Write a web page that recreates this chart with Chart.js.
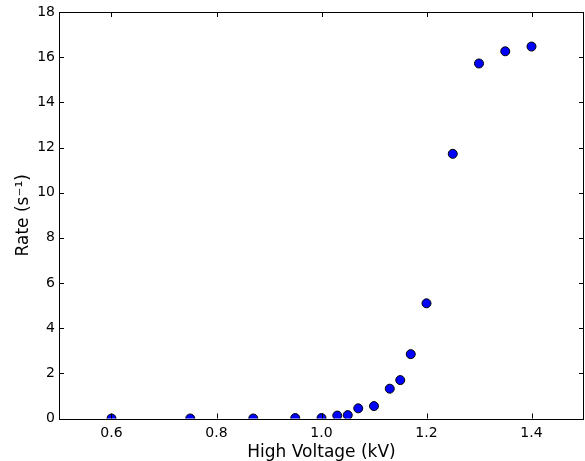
<!DOCTYPE html>
<html lang="en">
<head>
    <meta charset="UTF-8">
    <title>Rate vs High Voltage</title>
    <script src="https://cdn.jsdelivr.net/npm/chart.js"></script>
    <style>
        html, body { margin: 0; padding: 0; background: #fff; }
        #wrap { width: 585px; height: 461px; }
    </style>
</head>
<body>
    <div id="wrap"><canvas id="rateChart" width="585" height="461"></canvas></div>

    <script>
        // values
        const voltages = [0.60, 0.75, 0.87, 0.95, 1.00, 1.03, 1.05, 1.07, 1.10, 1.13, 1.15, 1.17, 1.20, 1.25, 1.30, 1.35, 1.40];
        const rates    = [0.00, 0.00, 0.00, 0.02, 0.02, 0.13, 0.15, 0.45, 0.55, 1.32, 1.70, 2.85, 5.10, 11.72, 15.72, 16.26, 16.47];
        const xTicks = [0.6, 0.8, 1.0, 1.2, 1.4];
        const yTicks = [0, 2, 4, 6, 8, 10, 12, 14, 16, 18];

        const points = voltages.map((v, i) => ({ x: v, y: rates[i] }));

        // matplotlib-style frame with inward ticks on all four sides
        const framePlugin = {
            id: 'frame',
            afterDatasetsDraw(chart) {
                const { ctx, chartArea: a, scales } = chart;
                ctx.save();
                ctx.strokeStyle = '#000';
                ctx.lineWidth = 1;
                ctx.strokeRect(Math.round(a.left) + 0.5, Math.round(a.top) + 0.5,
                    Math.round(a.right - a.left) - 1, Math.round(a.bottom - a.top));
                const len = 5;
                ctx.beginPath();
                xTicks.forEach(v => {
                    const px = Math.round(scales.x.getPixelForValue(v)) + 0.5;
                    ctx.moveTo(px, a.bottom); ctx.lineTo(px, a.bottom - len);
                    ctx.moveTo(px, a.top); ctx.lineTo(px, a.top + len);
                });
                yTicks.forEach(v => {
                    const py = Math.round(scales.y.getPixelForValue(v)) + 0.5;
                    ctx.moveTo(a.left, py); ctx.lineTo(a.left + len, py);
                    ctx.moveTo(a.right, py); ctx.lineTo(a.right - len, py);
                });
                ctx.stroke();
                ctx.restore();
            }
        };

        Chart.defaults.font.family = 'DejaVu Sans';
        Chart.defaults.color = '#000';

        new Chart(document.getElementById('rateChart'), {
            type: 'scatter',
            data: {
                datasets: [{
                    data: points,
                    backgroundColor: '#0000ff',
                    borderColor: '#000',
                    borderWidth: 1,
                    pointRadius: 4.5,
                    pointHoverRadius: 4.5,
                    clip: 0
                }]
            },
            options: {
                responsive: false,
                animation: false,
                layout: { autoPadding: false, padding: { top: 12, right: 1, left: 0, bottom: 0 } },
                plugins: { legend: { display: false }, tooltip: { enabled: false } },
                scales: {
                    x: {
                        type: 'linear',
                        min: 0.5,
                        max: 1.5,
                        afterBuildTicks: s => { s.ticks = xTicks.map(v => ({ value: v })); },
                        afterFit: s => { s.height = 42.5; s.paddingLeft = 0; s.paddingRight = 0; },
                        grid: { display: false, drawTicks: false },
                        border: { display: false },
                        ticks: {
                            padding: 6,
                            font: { size: 14 },
                            callback: v => v.toFixed(1)
                        },
                        title: {
                            display: true,
                            text: 'High Voltage (kV)',
                            font: { size: 17 },
                            padding: { top: 0, bottom: -2 }
                        }
                    },
                    y: {
                        min: 0,
                        max: 18,
                        afterBuildTicks: s => { s.ticks = yTicks.map(v => ({ value: v })); },
                        afterFit: s => { s.width = 59; s.paddingTop = 0; s.paddingBottom = 0; },
                        grid: { display: false, drawTicks: false },
                        border: { display: false },
                        ticks: {
                            padding: 4,
                            font: { size: 14 },
                            callback: v => String(v)
                        },
                        title: {
                            display: true,
                            text: 'Rate (s\u207B\u00B9)',
                            font: { size: 17 },
                            padding: { top: 13, bottom: 0 }
                        }
                    }
                }
            },
            plugins: [framePlugin]
        });
    </script>
</body>
</html>
